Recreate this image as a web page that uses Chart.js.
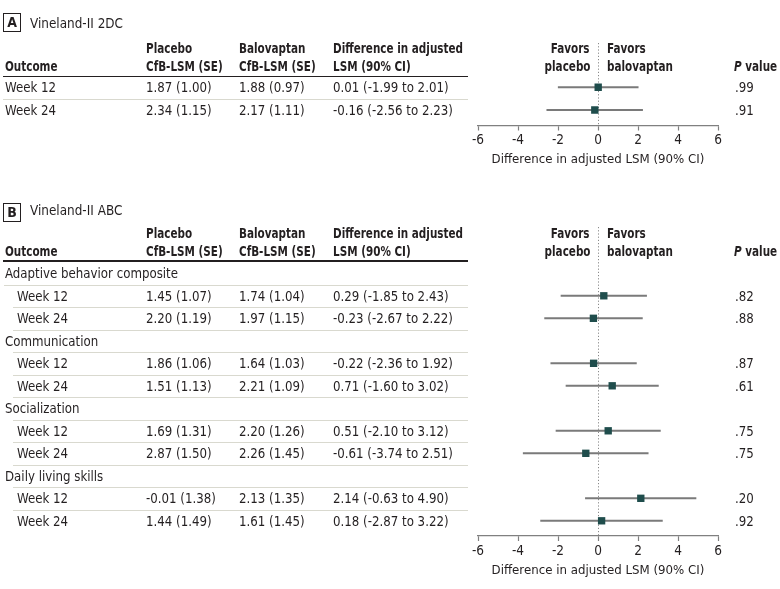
<!DOCTYPE html>
<html><head><meta charset="utf-8">
<script src="https://cdn.jsdelivr.net/npm/chart.js@4/dist/chart.umd.min.js"></script>
<style>
html,body{margin:0;padding:0;background:#fff;}
#page{position:relative;width:780px;height:589px;overflow:hidden;background:#fff;
  font-family:'DejaVu Sans Condensed','DejaVu Sans',sans-serif;font-size:14.5px;color:#231f20;}
.t{position:absolute;white-space:nowrap;height:20px;line-height:20px;}
.b{font-weight:bold;}
.hl{position:absolute;height:1px;background:#d9d9cf;}
.dl{position:absolute;height:1.6px;background:#231f20;}
canvas{position:absolute;left:0;}
.box{position:absolute;border:1px solid #231f20;font-weight:bold;text-align:center;box-sizing:border-box;}
</style></head><body><div id="page">
<canvas id="cA" width="780" height="180" style="top:0px"></canvas>
<canvas id="cB" width="780" height="409" style="top:180px"></canvas>
</div>
<script>
// ---------- DATA ----------
const titleA = 'Vineland-II 2DC';
const weeksA = ['Week 12', 'Week 24'];
const placeboMeanA = [1.87, 2.34];
const placeboSeA = [1.00, 1.15];
const balovaptanMeanA = [1.88, 2.17];
const balovaptanSeA = [0.97, 1.11];
const diffA = [0.01, -0.16];
const lowA = [-1.99, -2.56];
const highA = [2.01, 2.23];
const pA = ['.99', '.91'];

const titleB = 'Vineland-II ABC';
const domainsB = ['Adaptive behavior composite', 'Communication', 'Socialization', 'Daily living skills'];
const weeksB = ['Week 12', 'Week 24'];
const placeboMeanB = [1.45, 2.20, 1.86, 1.51, 1.69, 2.87, -0.01, 1.44];
const placeboSeB = [1.07, 1.19, 1.06, 1.13, 1.31, 1.50, 1.38, 1.49];
const balovaptanMeanB = [1.74, 1.97, 1.64, 2.21, 2.20, 2.26, 2.13, 1.61];
const balovaptanSeB = [1.04, 1.15, 1.03, 1.09, 1.26, 1.45, 1.35, 1.45];
const diffB = [0.29, -0.23, -0.22, 0.71, 0.51, -0.61, 2.14, 0.18];
const lowB = [-1.85, -2.67, -2.36, -1.60, -2.10, -3.74, -0.63, -2.87];
const highB = [2.43, 2.22, 1.92, 3.02, 3.12, 2.51, 4.90, 3.22];
const pB = ['.82', '.88', '.87', '.61', '.75', '.75', '.20', '.92'];

const xTicks = [-6, -4, -2, 0, 2, 4, 6];
const xTitle = 'Difference in adjusted LSM (90% CI)';

// ---------- STYLE / LAYOUT ----------
const FONT = "'DejaVu Sans Condensed','DejaVu Sans',sans-serif";
const FSZ = 14.5;
const INK = '#231f20';
const MARK = '#1f4d4c';
const BAR = '#7a7a7a';
const AXIS = '#808080';
const PLOT_L = 478, PLOT_R = 718;
const AXIS_H = 42;
const COL = {outcome: 5, indent: 17, placebo: 145.5, bal: 239, diff: 333, p: 734, favL: 590, favR: 607, lineEnd: 468};

function measure(text, weight, size) {
  const c = document.createElement('canvas').getContext('2d');
  c.font = weight + ' ' + size + 'px ' + FONT;
  return c.measureText(text).width;
}
const SX = 173 / measure('Adaptive behavior composite', 'normal', FSZ);
const SXB = 130 / measure('Difference in adjusted', 'bold', FSZ);
const SXT = 93 / measure('Vineland-II 2DC', 'normal', FSZ);
const FSAX = 213 / measure(xTitle, 'normal', 100) * 100;

const page = document.getElementById('page');
function txt(s, x, cy, opts) {
  opts = opts || {};
  const d = document.createElement('div');
  d.className = 't' + (opts.bold ? ' b' : '');
  d.innerHTML = s;
  d.style.top = (cy - 10) + 'px';
  const k = opts.sx || (opts.bold ? SXB : SX);
  d.style.transform = 'scaleX(' + k + ')';
  if (opts.right) { d.style.right = (780 - x) + 'px'; d.style.transformOrigin = 'right center'; }
  else { d.style.left = x + 'px'; d.style.transformOrigin = 'left center'; }
  page.appendChild(d);
}
function hline(x1, x2, y, cls) {
  const d = document.createElement('div');
  d.className = cls;
  d.style.left = x1 + 'px'; d.style.width = (x2 - x1) + 'px'; d.style.top = y + 'px';
  page.appendChild(d);
}
function box(letter, x, y) {
  const d = document.createElement('div');
  d.className = 'box';
  d.textContent = letter;
  d.style.fontSize = '14px';
  d.style.left = x + 'px'; d.style.top = y + 'px';
  d.style.width = '18px'; d.style.height = '19px'; d.style.lineHeight = '17px';
  page.appendChild(d);
}
const f2 = v => v.toFixed(2);
const ci = (d, l, h) => f2(d) + ' (' + f2(l) + ' to ' + f2(h) + ')';

function header(y1, y2) {
  txt('Outcome', COL.outcome, y2, {bold: true});
  txt('Placebo', COL.placebo, y1, {bold: true});
  txt('CfB-LSM (SE)', COL.placebo, y2, {bold: true});
  txt('Balovaptan', COL.bal, y1, {bold: true});
  txt('CfB-LSM (SE)', COL.bal, y2, {bold: true});
  txt('Difference in adjusted', COL.diff, y1, {bold: true});
  txt('LSM (90% CI)', COL.diff, y2, {bold: true});
  txt('Favors', COL.favL, y1, {bold: true, right: true});
  txt('placebo', COL.favL, y2, {bold: true, right: true});
  txt('Favors', COL.favR, y1, {bold: true});
  txt('balovaptan', COL.favR, y2, {bold: true});
  txt('<i>P</i> value', COL.p, y2, {bold: true});
}

// Panel A geometry
const gA = {canvasTop: 0, canvasH: 180, top: 43, axis: 125.5, firstRow: 87.3, pitch: 22.7};
box('A', 3, 13);
txt(titleA, 30, 23, {sx: SXT});
header(48.3, 65.7);
hline(3, COL.lineEnd, 75.5, 'dl');
const rowsA = weeksA.map((w, i) => i);
weeksA.forEach((w, i) => {
  const cy = gA.firstRow + gA.pitch * i;
  txt(w, COL.outcome, cy);
  txt(f2(placeboMeanA[i]) + ' (' + f2(placeboSeA[i]) + ')', COL.placebo, cy);
  txt(f2(balovaptanMeanA[i]) + ' (' + f2(balovaptanSeA[i]) + ')', COL.bal, cy);
  txt(ci(diffA[i], lowA[i], highA[i]), COL.diff, cy);
  txt(pA[i], COL.p + 1, cy);
  if (i < weeksA.length - 1) hline(3, COL.lineEnd, Math.round(cy + gA.pitch / 2), 'hl');
});

// Panel B geometry
const gB = {canvasTop: 180, canvasH: 409, top: 227, axis: 536, firstRow: 273.3, pitch: 22.5};
box('B', 3, 203);
txt(titleB, 30, 210, {sx: SXT});
header(233.3, 250.7);
hline(3, COL.lineEnd, 260, 'dl');
const rowsB = [];
let r = 0;
const totalRowsB = domainsB.length * (weeksB.length + 1);
domainsB.forEach((dom, di) => {
  const cyH = gB.firstRow + gB.pitch * r;
  txt(dom, COL.outcome, cyH);
  hline(di === 0 ? 4 : 13, COL.lineEnd, Math.round(cyH + gB.pitch / 2), 'hl');
  r++;
  weeksB.forEach((w, wi) => {
    const k = di * weeksB.length + wi;
    const cy = gB.firstRow + gB.pitch * r;
    rowsB.push(r);
    txt(w, COL.indent, cy);
    txt(f2(placeboMeanB[k]) + ' (' + f2(placeboSeB[k]) + ')', COL.placebo, cy);
    txt(f2(balovaptanMeanB[k]) + ' (' + f2(balovaptanSeB[k]) + ')', COL.bal, cy);
    txt(ci(diffB[k], lowB[k], highB[k]), COL.diff, cy);
    txt(pB[k], COL.p + 1, cy);
    if (r < totalRowsB - 1) hline(13, COL.lineEnd, Math.round(cy + gB.pitch / 2), 'hl');
    r++;
  });
});

function forest(id, est, lo, hi, rowIdx, g) {
  const ymin = -(g.firstRow - g.top) / g.pitch;
  const ymax = (g.axis - g.firstRow) / g.pitch;
  new Chart(document.getElementById(id), {
    type: 'bar',
    data: {
      datasets: [
        {type: 'scatter', data: est.map((v, i) => ({x: v, y: rowIdx[i]})),
          pointStyle: 'rect', pointRadius: 5.2, pointHoverRadius: 5.2,
          backgroundColor: MARK, borderColor: MARK, borderWidth: 0, order: 0},
        {type: 'bar', data: lo.map((v, i) => ({x: [v, hi[i]], y: rowIdx[i]})),
          backgroundColor: BAR, barThickness: 1.3, borderWidth: 0, grouped: false, order: 1}
      ]
    },
    options: {
      indexAxis: 'y', responsive: false, animation: false, events: [],
      layout: {padding: {left: PLOT_L, right: 780 - PLOT_R, top: g.top - g.canvasTop,
        bottom: g.canvasTop + g.canvasH - g.axis - AXIS_H}},
      plugins: {legend: {display: false}, tooltip: {enabled: false}},
      scales: {
        x: {type: 'linear', min: xTicks[0], max: xTicks[xTicks.length - 1], offset: false,
          afterFit: s => { s.height = AXIS_H; },
          afterBuildTicks: s => { s.ticks = xTicks.map(v => ({value: v})); },
          ticks: {color: INK, font: {family: FONT, size: 13.5}, padding: 2, maxRotation: 0, autoSkip: false,
            callback: v => (v < 0 ? '-' + Math.abs(v) : String(v))},
          grid: {display: true, drawOnChartArea: true, drawTicks: true, tickLength: 5,
            tickColor: AXIS, tickWidth: 1.2, lineWidth: 1,
            color: c => (c.tick && c.tick.value === 0 ? '#8a8a8a' : 'rgba(0,0,0,0)')},
          border: {display: true, color: AXIS, width: 1.3, dash: [1.2, 2]},
          title: {display: true, text: xTitle, color: INK, font: {family: FONT, size: FSAX}, padding: 0}
        },
        y: {type: 'linear', display: false, reverse: true, min: ymin, max: ymax, offset: false,
          grid: {offset: false}}
      }
    }
  });
}
forest('cA', diffA, lowA, highA, rowsA, gA);
forest('cB', diffB, lowB, highB, rowsB, gB);
</script>
</body></html>
